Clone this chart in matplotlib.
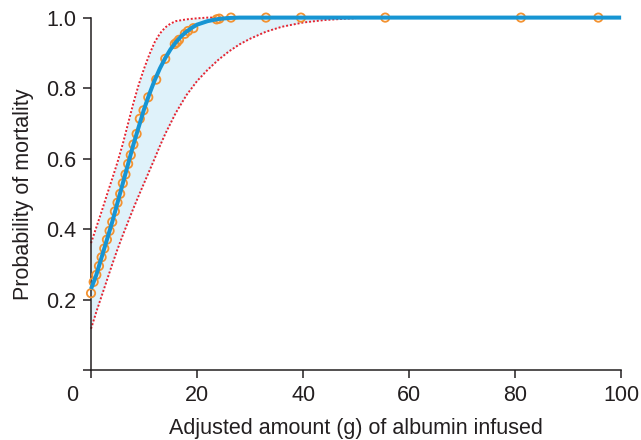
import matplotlib
matplotlib.use("Agg")
import matplotlib.pyplot as plt

# Fitted probability curve
curve_x = [0, 1, 2, 3, 4, 5, 6, 7, 8, 9, 10, 11, 12, 13, 14, 15, 16, 17, 18, 19, 20, 22, 24, 26, 28, 30, 40, 60, 80, 100]
curve_p = [0.23, 0.27, 0.32, 0.37, 0.42, 0.475, 0.53, 0.585, 0.64, 0.69, 0.74, 0.783, 0.822, 0.856, 0.885,
           0.91, 0.93, 0.947, 0.96, 0.971, 0.98, 0.99, 0.996, 0.999, 1.0, 1.0, 1.0, 1.0, 1.0, 1.0]

# Upper confidence bound
upper_x = [0, 1, 2, 3, 4, 5, 6, 7, 8, 9, 10, 11, 12, 13, 14, 15, 16, 18, 20, 22, 26, 30, 40, 50]
upper_p = [0.36, 0.405, 0.45, 0.497, 0.543, 0.59, 0.642, 0.70, 0.758, 0.81, 0.855, 0.895, 0.93, 0.955, 0.972,
           0.983, 0.99, 0.995, 0.998, 1.0, 1.0, 1.0, 1.0, 1.0]

# Lower confidence bound
lower_x = [0, 1, 2, 3, 4, 5, 6, 7, 8, 9, 10, 11, 12, 13, 14, 15, 16, 18, 20, 22, 24, 26, 28, 30, 33, 36, 40, 44, 48, 50]
lower_p = [0.117, 0.165, 0.21, 0.255, 0.30, 0.343, 0.383, 0.421, 0.459, 0.495, 0.53, 0.565, 0.60, 0.636, 0.67,
           0.70, 0.73, 0.78, 0.82, 0.852, 0.88, 0.904, 0.924, 0.94, 0.96, 0.974, 0.986, 0.993, 0.997, 0.998]

# Observed points (hollow circles)
obs_x = [0, 0.5, 1, 1.5, 2, 2.5, 3, 3.5, 4, 4.5, 5, 5.5, 6, 6.5, 7, 7.5, 8, 8.6, 9.2, 9.9, 10.8, 12.3, 14.0,
         15.8, 16.2, 16.6, 17.7, 18.3, 19.3, 23.7, 24.2, 26.4, 33.0, 39.6, 55.5, 81.1, 95.7]
obs_p = [0.218, 0.25, 0.27, 0.295, 0.32, 0.345, 0.37, 0.395, 0.42, 0.45, 0.475, 0.50, 0.53, 0.555, 0.585,
         0.61, 0.64, 0.67, 0.713, 0.737, 0.774, 0.824, 0.883, 0.925, 0.93, 0.937, 0.954, 0.962, 0.97,
         0.995, 0.997, 1.0, 1.0, 1.0, 1.0, 1.0, 1.0]

x_ticks = [0, 20, 40, 60, 80, 100]
x_tick_labels = ["", "20", "40", "60", "80", "100"]
y_ticks = [0, 0.2, 0.4, 0.6, 0.8, 1.0]
y_tick_labels = ["", "0.2", "0.4", "0.6", "0.8", "1.0"]

plt.rcParams['font.family'] = ['Liberation Sans', 'DejaVu Sans']
txt = '#231f20'
fs = 15.5

fig = plt.figure(figsize=(6.41, 4.40), dpi=100)
ax = fig.add_axes([0.142, 0.159, 0.827, 0.801])

ax.fill_between(lower_x, lower_p,
                [upper_p[upper_x.index(x)] if x in upper_x else 1.0 for x in lower_x],
                color='#dff2fa', lw=0, zorder=1)
ax.plot(upper_x, upper_p, color='#e62330', lw=1.4, ls=(0, (1.0, 1.0)), zorder=2, clip_on=False)
ax.plot(lower_x, lower_p, color='#e62330', lw=1.4, ls=(0, (1.0, 1.0)), zorder=2, clip_on=False)
ax.scatter(obs_x, obs_p, s=36, facecolors='none', edgecolors='#f39230', linewidths=1.3, zorder=3, clip_on=False)
ax.plot(curve_x, curve_p, color='#1795d3', lw=2.9, zorder=4, clip_on=False, solid_capstyle='butt')

ax.set_xlim(0, 100)
ax.set_ylim(0, 1.0)
ax.set_xticks(x_ticks)
ax.set_xticklabels(x_tick_labels)
ax.set_yticks(y_ticks)
ax.set_yticklabels(y_tick_labels)
ax.text(-3.6, -0.042, "0", ha='center', va='top', fontsize=fs, color=txt)

for s in ['top', 'right']:
    ax.spines[s].set_visible(False)
for s in ['left', 'bottom']:
    ax.spines[s].set_color(txt)
    ax.spines[s].set_linewidth(1.1)
ax.tick_params(direction='out', length=5.5, width=1.1, colors=txt, labelsize=fs, pad=5)

ax.set_xlabel("Adjusted amount (g) of albumin infused", fontsize=fs, color=txt, labelpad=9)
ax.set_ylabel("Probability of mortality", fontsize=fs, color=txt, labelpad=9)

fig.savefig("out.png", dpi=100)
